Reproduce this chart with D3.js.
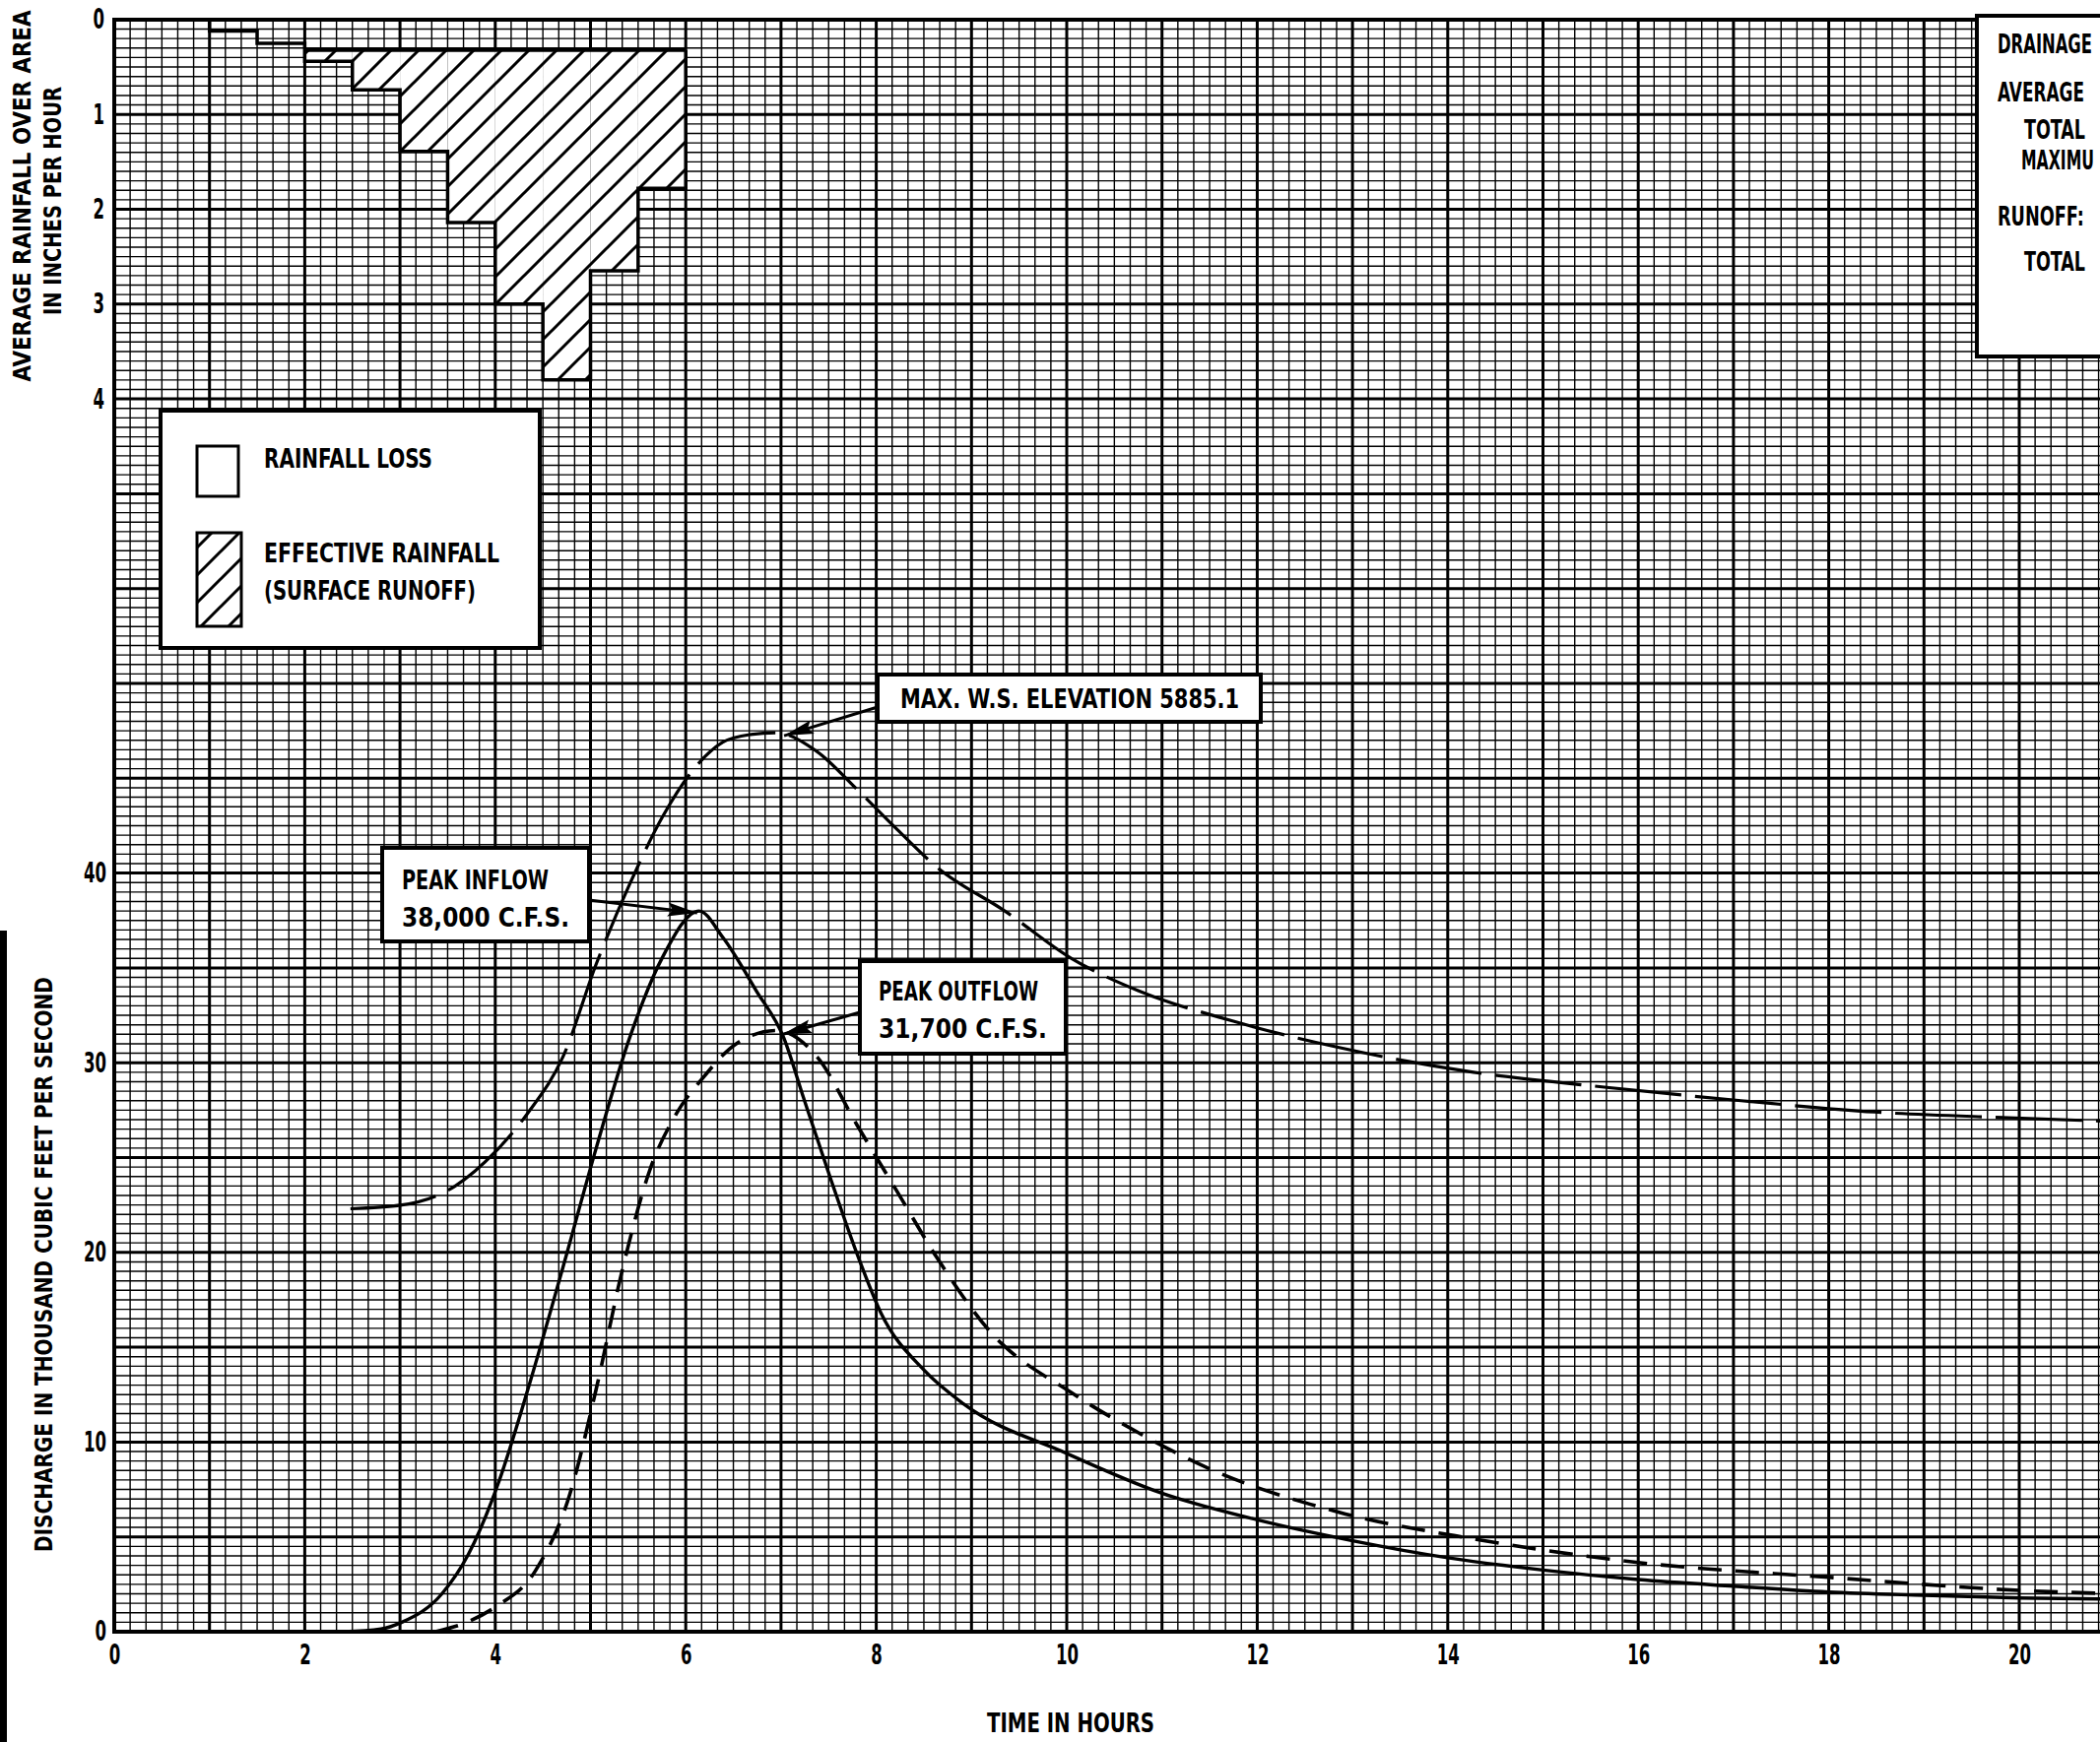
<!DOCTYPE html>
<html><head><meta charset="utf-8">
<script src="https://cdn.jsdelivr.net/npm/d3@7"></script>
<style>
html,body{margin:0;padding:0;background:#fff;}
svg{display:block;}
text{font-family:"Liberation Sans Narrow","DejaVu Sans Condensed",sans-serif;font-weight:bold;fill:#000;}
</style></head><body>
<svg id="chart" width="2132" height="1769"></svg>
<script>
// ---------------- DATA ----------------
// Hyetograph (half-hour periods, inches per hour)
const rainStart = [1.0, 1.5, 2.0, 2.5, 3.0, 3.5, 4.0, 4.5, 5.0, 5.5];
const rainTotal = [0.12, 0.25, 0.44, 0.74, 1.39, 2.14, 3.00, 3.80, 2.65, 1.78];
const rainLoss  = [0.12, 0.25, 0.32, 0.32, 0.32, 0.32, 0.32, 0.32, 0.32, 0.32];
const rainPeriod = 0.5;

// Inflow hydrograph (hours, thousand cfs)
const inflowTime = [2.40, 2.80, 3.02, 3.44, 3.72, 4.03, 4.35, 4.71, 5.06, 5.41, 5.76, 6.14, 6.39, 6.74, 7.03, 7.24, 7.52, 7.80, 8.05, 8.50, 8.92, 10.0, 11.0, 12.0, 13.0, 14.0, 15.0, 16.0, 17.0, 18.0, 19.0, 20.0, 21.0];
const inflowQ    = [0.0, 0.15, 0.5, 2.0, 4.1, 7.8, 12.9, 19.2, 25.5, 31.3, 35.6, 38.0, 36.6, 33.8, 31.3, 28.1, 23.9, 19.9, 16.8, 13.8, 12.0, 9.4, 7.3, 5.9, 4.8, 3.9, 3.25, 2.75, 2.4, 2.09, 1.92, 1.78, 1.72];

// Outflow hydrograph (hours, thousand cfs)
const outflowTime = [3.37, 3.70, 4.00, 4.42, 4.78, 5.06, 5.34, 5.62, 5.90, 6.18, 6.53, 6.95, 7.38, 7.80, 8.22, 8.64, 9.20, 10.05, 10.75, 11.45, 12.86, 14.3, 16.0, 18.0, 20.0, 21.0];
const outflowQ    = [0.0, 0.5, 1.3, 3.2, 7.2, 12.8, 19.2, 24.3, 27.3, 29.2, 31.0, 31.7, 30.3, 26.7, 23.2, 19.7, 15.8, 12.6, 10.5, 8.7, 6.3, 4.87, 3.65, 2.87, 2.18, 2.0];

// Reservoir water-surface curve (hours, plotted on the discharge grid)
const elevTime  = [2.48, 3.02, 3.58, 4.00, 4.35, 4.71, 5.06, 5.41, 5.76, 6.04, 6.39, 6.67, 6.95, 7.38, 7.80, 8.22, 8.64, 9.35, 10.05, 10.75, 11.74, 12.86, 14.27, 15.67, 17.08, 18.48, 19.89, 21.0];
const elevLevel = [22.3, 22.5, 23.5, 25.3, 27.4, 30.3, 35.2, 39.4, 43.0, 45.2, 46.9, 47.3, 47.4, 46.4, 44.4, 42.3, 40.3, 38.0, 35.5, 33.8, 32.2, 30.8, 29.5, 28.7, 28.0, 27.4, 27.1, 26.9];

// Tick labels
const timeTicks = [0, 2, 4, 6, 8, 10, 12, 14, 16, 18, 20];
const dischargeTicks = [0, 10, 20, 30, 40];
const rainTicks = [0, 1, 2, 3, 4];

// ---------------- LAYOUT ----------------
const svg = d3.select("#chart");
const X0 = 116, PX = 96.7;          // px per hour
const Y0 = 1657, PQ = 19.26;        // px per thousand cfs
const Qmax = 85;                    // grid top in discharge units
const x = d3.scaleLinear().domain([0, 21]).range([X0, X0 + 21 * PX]);
const yQ = d3.scaleLinear().domain([0, Qmax]).range([Y0, Y0 - Qmax * PQ]);
const yTop = yQ(Qmax);
const yR = d3.scaleLinear().domain([0, Qmax / 5]).range([yTop, Y0]);

svg.append("rect").attr("width", 2132).attr("height", 1769).attr("fill", "#fff");

// ---------------- GRID ----------------
const grid = svg.append("g");
const vLines = d3.range(0, 21 * 6 + 1).map(i => i / 6);
grid.selectAll("line.v").data(vLines).join("line")
  .attr("x1", d => x(d)).attr("x2", d => x(d))
  .attr("y1", yTop).attr("y2", Y0)
  .attr("stroke", "#000")
  .attr("stroke-width", (d, i) => i % 6 === 0 ? 3 : 1.4);
const hLines = d3.range(0, Qmax * 2 + 1).map(i => i / 2);
grid.selectAll("line.h").data(hLines).join("line")
  .attr("x1", X0).attr("x2", 2132)
  .attr("y1", d => yQ(d)).attr("y2", d => yQ(d))
  .attr("stroke", "#000")
  .attr("stroke-width", (d, i) => i % 10 === 0 ? 3 : 1.4);
// frame
svg.append("line").attr("x1", X0).attr("x2", X0).attr("y1", yTop - 2).attr("y2", Y0 + 2).attr("stroke", "#000").attr("stroke-width", 4);
svg.append("line").attr("x1", X0).attr("x2", 2132).attr("y1", Y0).attr("y2", Y0).attr("stroke", "#000").attr("stroke-width", 4);
svg.append("line").attr("x1", X0).attr("x2", 2132).attr("y1", yTop).attr("y2", yTop).attr("stroke", "#000").attr("stroke-width", 4);

// ---------------- PATTERN ----------------
const defs = svg.append("defs");
const pat = defs.append("pattern").attr("id", "hatch").attr("patternUnits", "userSpaceOnUse")
  .attr("width", 28).attr("height", 28);
pat.append("rect").attr("width", 28).attr("height", 28).attr("fill", "#fff");
pat.append("path").attr("d", "M-7,7 L7,-7 M0,28 L28,0 M21,35 L35,21")
  .attr("stroke", "#000").attr("stroke-width", 3);
defs.append("marker").attr("id", "arrow").attr("markerUnits", "userSpaceOnUse")
  .attr("viewBox", "-32 -9 34 18").attr("refX", 0).attr("refY", 0)
  .attr("markerWidth", 34).attr("markerHeight", 18).attr("orient", "auto")
  .append("path").attr("d", "M0,0 L-30,-7 L-25,0 L-30,7 Z").attr("fill", "#000");

// ---------------- HYETOGRAPH ----------------
const rain = rainStart.map((s, i) => ({ s, e: s + rainPeriod, tot: rainTotal[i], loss: rainLoss[i] }));
const hy = svg.append("g");
hy.selectAll("rect.eff").data(rain.filter(d => d.tot > d.loss)).join("rect")
  .attr("x", d => x(d.s)).attr("width", d => x(d.e) - x(d.s))
  .attr("y", d => yR(d.loss)).attr("height", d => yR(d.tot) - yR(d.loss))
  .attr("fill", "url(#hatch)");
// step outline of total rainfall
const stepPts = [[rain[0].s, 0]];
rain.forEach(d => { stepPts.push([d.s, d.tot]); stepPts.push([d.e, d.tot]); });
stepPts.push([rain[rain.length - 1].e, rain[rain.length - 1].loss]);
hy.append("path").attr("d", d3.line().x(d => x(d[0])).y(d => yR(d[1]))(stepPts))
  .attr("fill", "none").attr("stroke", "#000").attr("stroke-width", 3.5);
// loss line
const effRain = rain.filter(d => d.tot > d.loss);
hy.append("path").attr("d", d3.line().x(d => x(d[0])).y(d => yR(d[1]))(
    effRain.flatMap(d => [[d.s, d.loss], [d.e, d.loss]])))
  .attr("fill", "none").attr("stroke", "#000").attr("stroke-width", 4);

// ---------------- CURVES ----------------
const line = d3.line().x(d => x(d[0])).y(d => yQ(d[1])).curve(d3.curveMonotoneX);
const curves = svg.append("g").attr("fill", "none").attr("stroke", "#000").attr("stroke-linecap", "butt");
curves.append("path").attr("d", line(elevTime.map((t, i) => [t, elevLevel[i]])))
  .attr("stroke-width", 3.2).attr("stroke-dasharray", "88,14");
curves.append("path").attr("d", line(outflowTime.map((t, i) => [t, outflowQ[i]])))
  .attr("stroke-width", 3.6).attr("stroke-dasharray", "24,14");
curves.append("path").attr("d", line(inflowTime.map((t, i) => [t, inflowQ[i]])))
  .attr("stroke-width", 3.4);

// ---------------- AXES ----------------
const fs = 28;
function styleTicks(g) {
  g.select(".domain").remove();
  g.selectAll("text").attr("font-size", fs).attr("font-family", null)
    .each(function () {
      const n = this.textContent.length;
      d3.select(this).attr("textLength", 11.5 * n).attr("lengthAdjust", "spacingAndGlyphs");
    });
}
const ax = svg.append("g").attr("transform", `translate(0,${Y0})`)
  .call(d3.axisBottom(x).tickValues(timeTicks).tickSize(0).tickPadding(13).tickFormat(d3.format("d")));
styleTicks(ax);
const ay = svg.append("g").attr("transform", `translate(${X0},0)`)
  .call(d3.axisLeft(yQ).tickValues(dischargeTicks).tickSize(0).tickPadding(8).tickFormat(d3.format("d")));
styleTicks(ay);
const ar = svg.append("g").attr("transform", `translate(${X0},0)`)
  .call(d3.axisLeft(yR).tickValues(rainTicks).tickSize(0).tickPadding(10).tickFormat(d3.format("d")));
styleTicks(ar);

function label(g, tx, ty, str, len, size, anchor, rot) {
  const t = g.append("text").attr("x", tx).attr("y", ty).attr("font-size", size)
    .attr("text-anchor", anchor || "start").attr("dominant-baseline", "central").text(str);
  if (len) t.attr("textLength", len).attr("lengthAdjust", "spacingAndGlyphs");
  if (rot) t.attr("transform", `rotate(${rot},${tx},${ty})`);
  return t;
}
// label squeezed horizontally by a transform so its real box has the wanted width
function fitLabel(g, tx, ty, str, len, size) {
  const t = g.append("text").attr("x", 0).attr("y", 0).attr("font-size", size)
    .attr("dominant-baseline", "central").text(str);
  const w = t.node().getComputedTextLength() || len;
  t.attr("transform", `translate(${tx},${ty}) scale(${len / w},1)`);
  return t;
}
const T = svg.append("g");
label(T, 23, 199, "AVERAGE RAINFALL OVER AREA", 377, 24, "middle", -90);
label(T, 54, 204, "IN INCHES PER HOUR", 232, 24, "middle", -90);
label(T, 45, 1284, "DISCHARGE IN THOUSAND CUBIC FEET PER SECOND", 584, 24, "middle", -90);
label(T, 1087, 1750, "TIME IN HOURS", 170, 26, "middle");

// left edge dark strip from the scan
svg.append("rect").attr("x", 0).attr("y", 945).attr("width", 7).attr("height", 824).attr("fill", "#000");

// ---------------- LEGEND ----------------
const L = svg.append("g");
L.append("rect").attr("x", 163).attr("y", 417).attr("width", 385).attr("height", 241)
  .attr("fill", "#fff").attr("stroke", "#000").attr("stroke-width", 4);
L.append("rect").attr("x", 200).attr("y", 453).attr("width", 42).attr("height", 51)
  .attr("fill", "#fff").attr("stroke", "#000").attr("stroke-width", 3);
L.append("rect").attr("x", 200).attr("y", 541).attr("width", 45).attr("height", 95)
  .attr("fill", "url(#hatch)").attr("stroke", "#000").attr("stroke-width", 3);
label(L, 268, 466, "RAINFALL LOSS", 171, 26);
label(L, 268, 562, "EFFECTIVE RAINFALL", 239, 26);
label(L, 268, 600, "(SURFACE RUNOFF)", 215, 26);

// ---------------- ANNOTATIONS ----------------
const A = svg.append("g");
function arrow(fx, fy, tx, ty) {
  A.append("line").attr("x1", fx).attr("y1", fy).attr("x2", tx).attr("y2", ty)
    .attr("stroke", "#000").attr("stroke-width", 3).attr("marker-end", "url(#arrow)");
}
const iPk = d3.maxIndex(inflowQ), oPk = d3.maxIndex(outflowQ), ePk = d3.maxIndex(elevLevel);
arrow(891, 718, x(elevTime[ePk]) + 8, yQ(elevLevel[ePk]) + 3);
arrow(598, 914, x(inflowTime[iPk]) - 2, yQ(inflowQ[iPk]) + 2);
arrow(873, 1028, x(outflowTime[oPk]) + 6, yQ(outflowQ[oPk]) + 4);

A.append("rect").attr("x", 891).attr("y", 685).attr("width", 389).attr("height", 48)
  .attr("fill", "#fff").attr("stroke", "#000").attr("stroke-width", 4);
label(A, 914, 709, "MAX. W.S. ELEVATION 5885.1", 344, 27);

A.append("rect").attr("x", 388).attr("y", 861).attr("width", 210).attr("height", 95)
  .attr("fill", "#fff").attr("stroke", "#000").attr("stroke-width", 4);
label(A, 408, 893, "PEAK INFLOW", 149, 27);
label(A, 408, 931, "38,000 C.F.S.", 170, 27);

A.append("rect").attr("x", 873).attr("y", 976).attr("width", 209).attr("height", 94)
  .attr("fill", "#fff").attr("stroke", "#000").attr("stroke-width", 4);
label(A, 892, 1006, "PEAK OUTFLOW", 162, 27);
label(A, 892, 1044, "31,700 C.F.S.", 171, 27);

// ---------------- INFO BOX (cut at right edge in the source) ----------------
const I = svg.append("g");
I.append("rect").attr("x", 2007).attr("y", 16).attr("width", 200).attr("height", 346)
  .attr("fill", "#fff").attr("stroke", "#000").attr("stroke-width", 4);
fitLabel(I, 2028, 45, "DRAINAGE", 96, 26);
fitLabel(I, 2028, 94, "AVERAGE", 88, 26);
fitLabel(I, 2055, 132, "TOTAL", 62, 26);
fitLabel(I, 2052, 163, "MAXIMU", 74, 26);
fitLabel(I, 2028, 220, "RUNOFF:", 88, 26);
fitLabel(I, 2055, 266, "TOTAL", 62, 26);
</script>
</body></html>
